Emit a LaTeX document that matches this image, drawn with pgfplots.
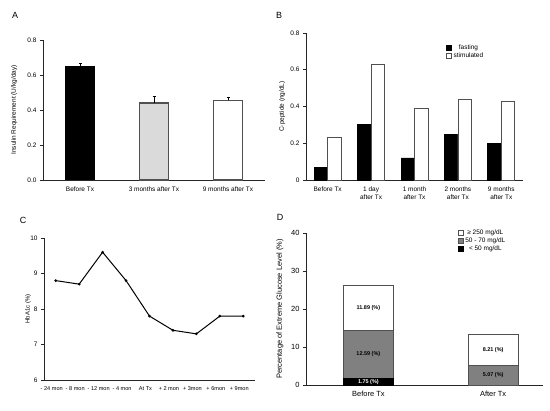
\documentclass[border=0pt]{standalone}
\usepackage{pgfplots}
\pgfplotsset{compat=1.18}
\usepackage{fontspec}
\setmainfont{Liberation Sans}
\definecolor{edge}{RGB}{80,80,80}
\definecolor{lgray}{RGB}{218,218,218}
\definecolor{mgray}{RGB}{128,128,128}
\pgfplotsset{
  sqleg/.style={legend image code/.code={\draw[##1] (0bp,-2.6bp) rectangle (5.2bp,2.6bp);}},
  panel/.style={
    scale only axis, anchor=south west, clip=false,
    axis x line*=bottom, axis y line*=left,
    axis line style={-, black!85, line width=0.6bp},
    tick align=outside, major tick length=3bp,
    tick style={black!85, line width=0.6bp},
    /pgf/number format/assume math mode=true,
    tick label style={font=\fontsize{6.5}{7.5}\selectfont},
    ylabel style={anchor=center, font=\fontsize{6.5}{7.5}\selectfont},
  }
}
\begin{document}
\begin{tikzpicture}
\path[use as bounding box, fill=white] (0,0) rectangle (550bp,411bp);

% ---------- A ----------
\begin{axis}[panel,
  at={(43bp,231bp)}, width=222bp, height=140bp,
  xmin=-0.5, xmax=2.5, ymin=0, ymax=0.8,
  xtick={0,1,2}, xticklabels={Before Tx, 3 months after Tx, 9 months after Tx},
  x tick style={draw=none},
  extra x ticks={-0.5,0.5,1.5,2.5}, extra x tick labels={},
  extra x tick style={tick style={draw=black!85}, major tick length=3bp},
  ytick={0,0.2,0.4,0.6,0.8},
  yticklabel style={/pgf/number format/.cd, fixed, fixed zerofill, precision=1},
  ylabel={Insulin Requirement (U/kg/day)},
  ylabel style={at={(axis description cs:-0.13,0.5)}},
  ybar, bar width=29bp,
  error bars/y dir=plus, error bars/y explicit,
  error bars/error bar style={black, line width=0.6bp},
  error bars/error mark options={rotate=90, mark size=1.5bp, black},
]
\addplot[bar shift=0pt, fill=black, draw=black, line width=1bp] coordinates {(0,0.65) +- (0,0.02)};
\addplot[bar shift=0pt, fill=lgray, draw=edge, line width=1.2bp] coordinates {(1,0.44) +- (0,0.04)};
\addplot[bar shift=0pt, fill=white, draw=edge, line width=1.2bp] coordinates {(2,0.455) +- (0,0.02)};
\end{axis}
\node[font=\fontsize{9}{10}\selectfont] at (15bp,396bp) {A};

% ---------- B ----------
\begin{axis}[panel,
  at={(306bp,231bp)}, width=217bp, height=147bp,
  xmin=-0.5, xmax=4.5, ymin=0, ymax=0.8,
  xtick={0,1,2,3,4},
  xticklabels={Before Tx, 1 day\\after Tx, 1 month\\after Tx, 2 months\\after Tx, 9 months\\after Tx},
  xticklabel style={align=center, anchor=north, text depth=0pt, font=\fontsize{6.5}{8}\selectfont},
  x tick style={draw=none},
  ytick={0,0.2,0.4,0.6,0.8},
  ylabel={C-peptide (ng/dL)},
  ylabel style={at={(axis description cs:-0.11,0.5)}},
  ybar=0pt, bar width=13.5bp,
  every axis plot post/.append style={sqleg},
  legend style={at={(0.645,0.93)}, anchor=north west, draw=none, fill=none,
    font=\fontsize{6.5}{7}\selectfont, row sep=-1.5bp, inner sep=0pt,
    nodes={inner sep=1.5bp}},
]
\addplot[fill=black, draw=black, line width=0.8bp] coordinates {(0,0.07) (1,0.30) (2,0.12) (3,0.25) (4,0.20)};
\addplot[fill=white, draw=edge, line width=0.8bp] coordinates {(0,0.23) (1,0.63) (2,0.39) (3,0.44) (4,0.43)};
\legend{fasting, stimulated}
\end{axis}
\node[font=\fontsize{9}{10}\selectfont] at (279bp,396bp) {B};

% ---------- C ----------
\begin{axis}[panel,
  at={(44bp,31bp)}, width=211bp, height=142bp,
  xmin=-0.5, xmax=8.5, ymin=6, ymax=10,
  xtick={0,...,8},
  xticklabels={- 24 mon, - 8 mon, - 12 mon, - 4 mon, At Tx, + 2 mon, + 3mon, + 6mon, + 9mon},
  xticklabel style={font=\fontsize{5.6}{6.5}\selectfont, xshift=-4bp},
  x tick style={draw=none},
  extra x ticks={0.5,1.5,...,8.5}, extra x tick labels={},
  extra x tick style={tick style={draw=black!85}, major tick length=3bp},
  ytick={6,7,8,9,10},
  ylabel={HbA1c (\%)},
  ylabel style={at={(axis description cs:-0.075,0.5)}, font=\fontsize{6}{7}\selectfont},
]
\addplot[black, line width=1bp, mark=*, mark size=0.8bp] coordinates {
(0,8.8) (1,8.7) (2,9.6) (3,8.8) (4,7.8) (5,7.4) (6,7.3) (7,7.8) (8,7.8)};
\end{axis}
\node[font=\fontsize{9}{10}\selectfont] at (23bp,191bp) {C};

% ---------- D ----------
\begin{axis}[panel,
  at={(306bp,26bp)}, width=237bp, height=152bp,
  xmin=-0.5, xmax=1.4, ymin=0, ymax=40,
  xtick={0,1}, xticklabels={Before Tx, After Tx},
  x tick style={draw=none},
  ytick={0,10,20,30,40},
  tick label style={font=\fontsize{7.5}{8.5}\selectfont},
  ylabel={Percentage of Extreme Glucose Level (\%)},
  ylabel style={at={(axis description cs:-0.11,0.5)}, font=\fontsize{7.5}{8.5}\selectfont},
  ybar stacked, bar width=50bp,
  every axis plot post/.append style={sqleg},
  reverse legend,
  legend style={at={(0.64,1.03)}, anchor=north west, draw=none, fill=none,
    font=\fontsize{6.5}{7}\selectfont, row sep=-1.5bp, inner sep=0pt,
    nodes={inner sep=1.5bp}},
  after end axis/.code={
    \node[font=\bfseries\fontsize{5.5}{6}\selectfont, text=white] at (axis cs:0,0.875) {1.75 (\%)};
    \node[font=\bfseries\fontsize{5.5}{6}\selectfont] at (axis cs:0,8.045) {12.59 (\%)};
    \node[font=\bfseries\fontsize{5.5}{6}\selectfont] at (axis cs:0,20.285) {11.89 (\%)};
    \node[font=\bfseries\fontsize{5.5}{6}\selectfont] at (axis cs:1,2.535) {5.07 (\%)};
    \node[font=\bfseries\fontsize{5.5}{6}\selectfont] at (axis cs:1,9.175) {8.21 (\%)};
  },
]
\addplot[fill=black, draw=black, line width=0.8bp] coordinates {(0,1.75) (1,0)};
\addplot[fill=mgray, draw=edge, line width=0.8bp] coordinates {(0,12.59) (1,5.07)};
\addplot[fill=white, draw=edge, line width=0.8bp] coordinates {(0,11.89) (1,8.21)};
\legend{< 50 mg/dL, 50 - 70 mg/dL, ≥ 250 mg/dL}
\end{axis}
\node[font=\fontsize{9}{10}\selectfont] at (280bp,194bp) {D};
\end{tikzpicture}
\end{document}
